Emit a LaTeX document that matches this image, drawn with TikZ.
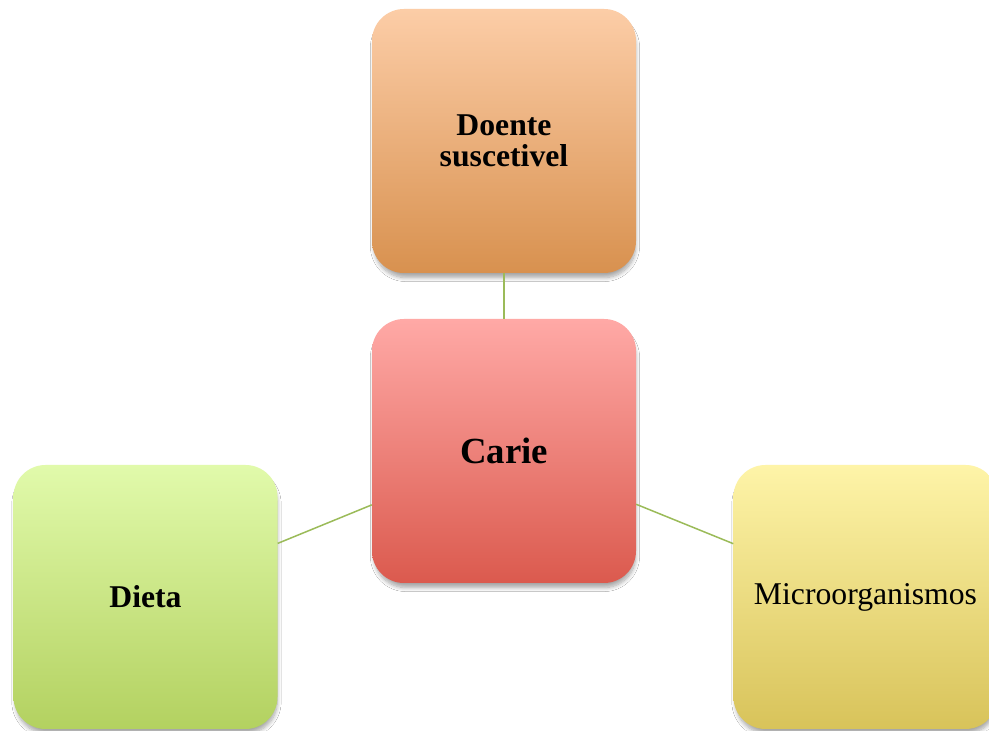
\documentclass[tikz,border=0pt]{standalone}
\usepackage{fontspec}
\setmainfont{Liberation Serif}
\usetikzlibrary{shadows.blur}
\definecolor{lnk}{HTML}{9BBB59}
\definecolor{topA}{HTML}{FCCDA7}
\definecolor{topB}{HTML}{D8914F}
\definecolor{midA}{HTML}{FFA9A6}
\definecolor{midB}{HTML}{DB5A4E}
\definecolor{lftA}{HTML}{E1FAAB}
\definecolor{lftB}{HTML}{B3D160}
\definecolor{rgtA}{HTML}{FEF4A8}
\definecolor{rgtB}{HTML}{D8C35A}
\tikzset{
  card/.style={rectangle, rounded corners=32pt, minimum width=264pt, minimum height=264pt,
    inner sep=0pt, align=center, text=black,
    blur shadow={shadow xshift=1pt, shadow yshift=-6pt, shadow scale=0.99, shadow blur steps=8, shadow opacity=35, shadow blur radius=4pt}},
  link/.style={draw=lnk, line width=1.5pt},
  bigtxt/.style={font=\fontsize{36.8}{36}\selectfont\bfseries},
  boldtxt/.style={font=\fontsize{31.7}{31}\selectfont\bfseries},
  regtxt/.style={font=\fontsize{31.7}{31}\selectfont},
}
\begin{document}
\begin{tikzpicture}[x=1pt,y=1pt]
\clip (0,0) rectangle (989,731);
\fill[white] (0,0) rectangle (989,731);
\node[card, boldtxt, top color=topA, bottom color=topB] (top) at (504,590) {Doente\\suscetivel};
\node[card, bigtxt, top color=midA, bottom color=midB] (mid) at (504,280) {Carie};
\node[card, boldtxt, top color=lftA, bottom color=lftB] (lft) at (145.5,134) {Dieta};
\node[card, regtxt, top color=rgtA, bottom color=rgtB] (rgt) at (865.5,134) {Microorganismos};
\draw[link] (mid) -- (top);
\draw[link] (mid) -- (lft);
\draw[link] (mid) -- (rgt);
\end{tikzpicture}
\end{document}
